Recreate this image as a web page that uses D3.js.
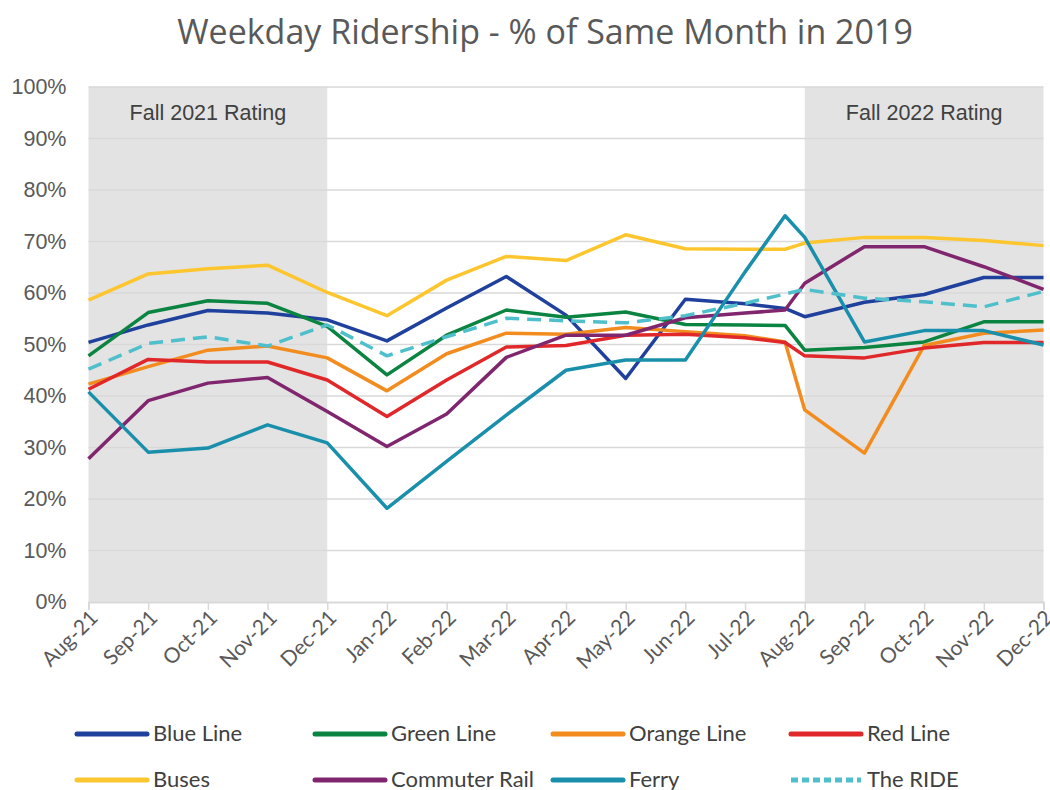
<!DOCTYPE html>
<html>
<head>
<meta charset="utf-8">
<script src="https://cdn.jsdelivr.net/npm/d3@7"></script>
<style>
  body { margin: 0; background: #fff; }
  svg text { font-family: "Liberation Sans", Arial, sans-serif; }
</style>
</head>
<body>
<div id="chart"></div>
<script>
// month tick labels
const months = ["Aug-21","Sep-21","Oct-21","Nov-21","Dec-21","Jan-22","Feb-22","Mar-22",
  "Apr-22","May-22","Jun-22","Jul-22","Aug-22","Sep-22","Oct-22","Nov-22","Dec-22"];
// x of each data point, in months from Aug-21 (one extra reading late in Jul-22)
const pointX = [0,1,2,3,4,5,6,7,8,9,10,11,11.67,12,13,14,15,16];

const blueLine     = [50.4,53.8,56.6,56.1,54.8,50.7,57.1,63.2,55.7,43.4,58.8,57.9,57.0,55.4,58.2,59.7,63.0,63.0];
const greenLine    = [47.8,56.2,58.5,58.0,53.5,44.1,51.8,56.7,55.3,56.3,53.9,53.8,53.7,48.9,49.4,50.5,54.4,54.4];
const orangeLine   = [42.3,45.7,48.9,49.7,47.4,41.0,48.2,52.2,52.0,53.3,52.5,51.7,50.5,37.3,28.9,49.8,52.2,52.8];
const redLine      = [41.3,47.1,46.6,46.6,43.1,36.0,43.1,49.5,49.8,51.8,52.0,51.3,50.4,47.8,47.4,49.3,50.4,50.4];
const buses        = [58.6,63.7,64.7,65.4,60.1,55.6,62.5,67.1,66.3,71.3,68.6,68.5,68.5,69.7,70.8,70.8,70.2,69.2];
const commuterRail = [27.8,39.1,42.5,43.6,37.0,30.2,36.5,47.5,51.8,51.8,55.2,56.1,56.7,61.9,69.0,69.0,65.1,60.7];
const ferry        = [40.8,29.1,29.9,34.4,30.9,18.2,27.3,36.3,45.0,47.0,47.0,64.1,75.0,70.8,50.5,52.7,52.7,49.9];
const theRide      = [45.2,50.2,51.5,49.7,53.8,47.8,51.5,55.1,54.6,54.2,55.6,58.0,59.8,60.7,59.0,58.3,57.3,60.3];

const seriesNames  = ["Blue Line","Green Line","Orange Line","Red Line","Buses","Commuter Rail","Ferry","The RIDE"];
const seriesValues = [blueLine, greenLine, orangeLine, redLine, buses, commuterRail, ferry, theRide];
const seriesColors = ["#1f409c","#0b8442","#f28c1e","#e0282a","#fdc62e","#80266e","#1a8fab","#4fbfcb"];

// shaded rating periods [start month index, end month index, label]
const ratingBands = [[0,4,"Fall 2021 Rating"],[12,16,"Fall 2022 Rating"]];
const yTicks = [0,10,20,30,40,50,60,70,80,90,100];

const width = 1050, height = 790;
const svg = d3.select("#chart").append("svg").attr("width", width).attr("height", height);

const x = d3.scaleLinear().domain([0, 16]).range([88.5, 1043.5]);
const y = d3.scaleLinear().domain([0, 100]).range([602, 87]);

svg.append("text")
  .attr("x", 545).attr("y", 44)
  .attr("text-anchor", "middle")
  .attr("fill", "#595959")
  .style("font-family", "'Open Sans', sans-serif")
  .style("font-size", "34px")
  .text("Weekday Ridership - % of Same Month in 2019");

// rating bands
svg.selectAll("rect.band")
  .data(ratingBands).enter()
  .append("rect")
  .attr("class", "band")
  .attr("x", d => x(d[0]))
  .attr("width", d => x(d[1]) - x(d[0]))
  .attr("y", y(100))
  .attr("height", y(0) - y(100))
  .attr("fill", "#e3e3e3");

// gridlines
svg.selectAll("line.grid")
  .data(yTicks.slice(1)).enter()
  .append("line")
  .attr("x1", x(0)).attr("x2", x(16))
  .attr("y1", d => y(d)).attr("y2", d => y(d))
  .attr("stroke", "#d9d9d9").attr("stroke-width", 1.5);

svg.selectAll("text.band-label")
  .data(ratingBands).enter()
  .append("text")
  .attr("x", d => (x(d[0]) + x(d[1])) / 2)
  .attr("y", 120)
  .attr("text-anchor", "middle")
  .attr("fill", "#404040")
  .style("font-size", "21.5px")
  .text(d => d[2]);

// y axis
const yAxis = svg.append("g")
  .attr("transform", `translate(${x(0)},0)`)
  .call(d3.axisLeft(y).tickValues(yTicks).tickSize(0).tickPadding(22).tickFormat(d => d + "%"));
yAxis.select(".domain").remove();
yAxis.selectAll("text").attr("fill", "#595959").style("font-size", "21.5px");

// x axis
const xAxis = svg.append("g")
  .attr("transform", `translate(0,${y(0)})`)
  .call(d3.axisBottom(x).tickValues(d3.range(17)).tickSize(8).tickFormat(i => months[i]));
xAxis.select(".domain").attr("stroke", "#d9d9d9").attr("stroke-width", 2);
xAxis.selectAll(".tick line").attr("stroke", "#d9d9d9").attr("stroke-width", 1.5);
xAxis.selectAll("text")
  .attr("fill", "#595959")
  .style("font-family", "Lato, sans-serif")
  .style("font-size", "21px")
  .attr("text-anchor", "end")
  .attr("y", 0).attr("dx", 0).attr("dy", "0.35em")
  .attr("transform", "translate(5,12) rotate(-45)");

// lines
const line = d3.line()
  .x((d, i) => x(pointX[i]))
  .y(d => y(d));

svg.selectAll("path.series")
  .data(seriesValues).enter()
  .append("path")
  .attr("class", "series")
  .attr("d", d => line(d))
  .attr("fill", "none")
  .attr("stroke", (d, i) => seriesColors[i])
  .attr("stroke-width", 3.5)
  .attr("stroke-linejoin", "round")
  .attr("stroke-dasharray", (d, i) => seriesNames[i] === "The RIDE" ? "14,8" : null);

// legend
const legend = svg.selectAll("g.legend")
  .data(seriesNames).enter()
  .append("g")
  .attr("class", "legend")
  .attr("transform", (d, i) => `translate(${75 + (i % 4) * 238},${i < 4 ? 734 : 780})`);

legend.append("line")
  .attr("x1", 2).attr("x2", 72)
  .attr("stroke", (d, i) => seriesColors[i])
  .attr("stroke-width", 5)
  .attr("stroke-linecap", (d) => d === "The RIDE" ? "butt" : "round")
  .attr("stroke-dasharray", d => d === "The RIDE" ? "7,4" : null);

legend.append("text")
  .attr("x", 78).attr("y", 7)
  .attr("fill", "#404040")
  .style("font-family", "Lato, sans-serif")
  .style("font-size", "22px")
  .text(d => d);
</script>
</body>
</html>
